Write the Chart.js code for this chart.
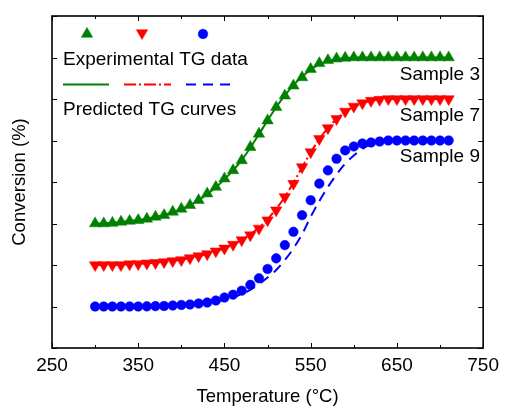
<!DOCTYPE html>
<html>
<head>
<meta charset="utf-8">
<script src="https://cdn.jsdelivr.net/npm/chart.js@4.4.1/dist/chart.umd.min.js"></script>
<style>
  html, body { margin: 0; padding: 0; background: #fff; }
  #wrap { width: 505px; height: 407px; }
</style>
</head>
<body>
<div id="wrap"><canvas id="myChart"></canvas></div>
<script>
// temperature of each TG point (°C)
var temps = [300, 310, 320, 330, 340, 350, 360, 370, 380, 390,
  400, 410, 420, 430, 440, 450, 460, 470, 480, 490,
  500, 510, 520, 530, 540, 550, 560, 570, 580, 590,
  600, 610, 620, 630, 640, 650, 660, 670, 680, 690,
  700, 710]

// conversion (%) - experimental points
var exp_s3 = [0, 0, 0.3, 1, 1.5, 2, 2.8, 4, 5, 7,
  8.8, 11, 14, 18, 22, 27, 32, 38, 46, 54,
  62, 70, 77, 83, 88, 93, 96.5, 98.3, 99.3, 99.8,
  100, 100, 100, 100, 100, 100, 100, 100, 100, 100,
  100, 100]
var exp_s7 = [0, 0, 0, 0, 0.5, 0.6, 1, 1.3, 1.8, 2.4,
  3, 4.2, 5.4, 6.6, 8.3, 10, 12.3, 15, 18, 22,
  27, 33, 41, 49, 59, 68, 76, 82.5, 88, 92.5,
  95.5, 97.5, 99, 99.6, 100, 100, 100, 100, 100, 100,
  100, 100]
var exp_s9 = [0, 0, 0, 0, 0, 0, 0.1, 0.2, 0.3, 0.6,
  0.9, 1.2, 1.8, 2.4, 3.6, 5.4, 7.1, 9.5, 13, 17,
  22.6, 29, 37, 45, 55, 64, 74, 82, 89, 94,
  96.4, 98.2, 98.8, 99.4, 100, 100, 100, 100, 100, 100,
  100, 100]

// conversion (%) - predicted curves
var pred_s3 = [0, 0.2, 0.5, 1, 1.5, 2.1, 2.9, 3.9, 5.1, 6.8,
  8.7, 11, 14, 17.6, 21.8, 26.6, 32, 38.2, 45.6, 53.8,
  62, 70, 77.2, 83.4, 88.4, 92.6, 95.8, 97.8, 99, 99.6,
  100, 100, 100, 100, 100, 100, 100, 100, 100, 100,
  100, 100]
var pred_s7 = [0, 0, 0, 0.2, 0.4, 0.7, 1, 1.4, 1.9, 2.5,
  3.2, 4.2, 5.3, 6.6, 8.2, 10.1, 12.4, 15.2, 18.5, 22.6,
  27.6, 33.8, 41, 49.5, 58.8, 67.8, 75.8, 82.6, 88, 92.2,
  95.2, 97.4, 98.8, 99.6, 100, 100, 100, 100, 100, 100,
  100, 100]
var pred_s9 = [0, 0, 0, 0, 0, 0, 0.1, 0.2, 0.3, 0.5,
  0.8, 1.1, 1.6, 2.2, 3, 4, 5.5, 7.5, 10, 13.5,
  17.5, 22, 28, 35, 43.5, 54, 63.5, 72, 79.5, 86,
  91, 95, 97.8, 99.2, 100, 100, 100, 100, 100, 100,
  100, 100]

// vertical shift of each sample so the curves are stacked
var offsets = { s3: 75, s7: 50, s9: 25 }

var x_ticks = [250, 350, 450, 550, 650, 750]
var sample_labels = ['Sample 3', 'Sample 7', 'Sample 9']

var green = '#008000'
var red = '#ff0000'
var blue = '#0000ff'
var font_name = '"Liberation Sans", Arial, sans-serif'
var tri_r = 6.6
var dot_r = 4.8

function pts(vals, off) {
  return temps.map(function (t, i) { return { x: t, y: vals[i] + off } })
}

function markerSet(vals, off, color, style, rot, r) {
  return {
    data: pts(vals, off),
    showLine: false,
    pointStyle: style,
    rotation: rot,
    pointRadius: r,
    pointBackgroundColor: color,
    pointBorderColor: color,
    pointBorderWidth: 0.5,
    order: 0
  }
}

function lineSet(vals, off, color, dash) {
  return {
    data: pts(vals, off),
    showLine: true,
    borderColor: color,
    borderWidth: 2,
    borderDash: dash,
    pointRadius: 0,
    fill: false,
    cubicInterpolationMode: 'monotone',
    order: 1
  }
}

// frame, inward ticks, legend and sample labels
var decor = {
  id: 'decor',
  afterDraw: function (chart) {
    var ctx = chart.ctx
    var a = chart.chartArea
    var xs = chart.scales.x
    var ys = chart.scales.y
    ctx.save()
    ctx.strokeStyle = '#000'
    ctx.lineWidth = 1
    xs.ticks.forEach(function (tk) {
      var px = Math.round(xs.getPixelForValue(tk.value)) + 0.5
      var major = (tk.value - 250) % 100 === 0
      var len = major ? 5 : 3
      ctx.beginPath()
      ctx.moveTo(px, a.bottom); ctx.lineTo(px, a.bottom - len)
      ctx.moveTo(px, a.top); ctx.lineTo(px, a.top + len)
      ctx.stroke()
    })
    ys.ticks.forEach(function (tk) {
      var py = Math.round(ys.getPixelForValue(tk.value)) + 0.5
      ctx.beginPath()
      ctx.moveTo(a.left, py); ctx.lineTo(a.left + 5, py)
      ctx.moveTo(a.right, py); ctx.lineTo(a.right - 5, py)
      ctx.stroke()
    })
    ctx.lineWidth = 1.6
    ctx.strokeRect(a.left, a.top, a.right - a.left, a.bottom - a.top)

    // legend
    var h = Chart.helpers
    ctx.fillStyle = green; ctx.strokeStyle = green; ctx.lineWidth = 0.5
    h.drawPoint(ctx, { pointStyle: 'triangle', radius: tri_r, rotation: 0, borderWidth: 0.5 }, 87, 34)
    ctx.fillStyle = red; ctx.strokeStyle = red
    h.drawPoint(ctx, { pointStyle: 'triangle', radius: tri_r, rotation: 180, borderWidth: 0.5 }, 142, 33)
    ctx.fillStyle = blue; ctx.strokeStyle = blue
    h.drawPoint(ctx, { pointStyle: 'circle', radius: dot_r, rotation: 0, borderWidth: 0.5 }, 203, 34)

    ctx.fillStyle = '#000'
    ctx.font = '19px ' + font_name
    ctx.textAlign = 'left'
    ctx.textBaseline = 'middle'
    ctx.fillText('Experimental TG data', 63, 60)
    ctx.fillText('Predicted TG curves', 63, 110)

    ctx.lineWidth = 2
    ctx.strokeStyle = green; ctx.setLineDash([])
    ctx.beginPath(); ctx.moveTo(63, 84.5); ctx.lineTo(109, 84.5); ctx.stroke()
    ctx.strokeStyle = red; ctx.setLineDash([12, 3, 2, 3])
    ctx.beginPath(); ctx.moveTo(124, 84.5); ctx.lineTo(171, 84.5); ctx.stroke()
    ctx.strokeStyle = blue; ctx.setLineDash([10, 7])
    ctx.beginPath(); ctx.moveTo(186, 84.5); ctx.lineTo(234, 84.5); ctx.stroke()
    ctx.setLineDash([])

    ctx.textAlign = 'right'
    ctx.fillStyle = '#000'
    var ly = [75, 116, 157]
    sample_labels.forEach(function (s, i) { ctx.fillText(s, 480, ly[i]) })
    ctx.restore()
  }
}

var ctx = document.getElementById('myChart').getContext('2d')
var myChart = new Chart(ctx, {
  type: 'scatter',
  data: {
    datasets: [
      markerSet(exp_s3, offsets.s3, green, 'triangle', 0, tri_r),
      markerSet(exp_s7, offsets.s7, red, 'triangle', 180, tri_r),
      markerSet(exp_s9, offsets.s9, blue, 'circle', 0, dot_r),
      lineSet(pred_s3, offsets.s3, green, []),
      lineSet(pred_s7, offsets.s7, red, [12, 3, 2, 3]),
      lineSet(pred_s9, offsets.s9, blue, [10, 7])
    ]
  },
  options: {
    responsive: true,
    maintainAspectRatio: false,
    animation: false,
    layout: { padding: { top: 16, right: 17, left: 0, bottom: 0 } },
    plugins: {
      legend: { display: false },
      tooltip: { enabled: false }
    },
    scales: {
      x: {
        type: 'linear',
        min: 250,
        max: 750,
        grid: { display: false, drawTicks: false },
        border: { display: false },
        ticks: {
          stepSize: 50,
          autoSkip: false,
          maxRotation: 0,
          padding: 6,
          color: '#000',
          font: { family: font_name, size: 19 },
          callback: function (v) { return x_ticks.indexOf(v) >= 0 ? String(v) : '' }
        },
        title: {
          display: true,
          text: 'Temperature (\u00b0C)',
          color: '#000',
          font: { family: font_name, size: 18.5 },
          padding: { top: 0, bottom: -1 }
        },
        afterFit: function (s) { s.height = 59 }
      },
      y: {
        min: 0,
        max: 200,
        grid: { display: false, drawTicks: false },
        border: { display: false },
        ticks: { stepSize: 25, display: false },
        title: {
          display: true,
          text: 'Conversion (%)',
          color: '#000',
          font: { family: font_name, size: 18.5 },
          padding: { top: 9, bottom: 0 }
        },
        afterFit: function (s) { s.width = 52 }
      }
    }
  },
  plugins: [decor]
})
</script>
</body>
</html>
